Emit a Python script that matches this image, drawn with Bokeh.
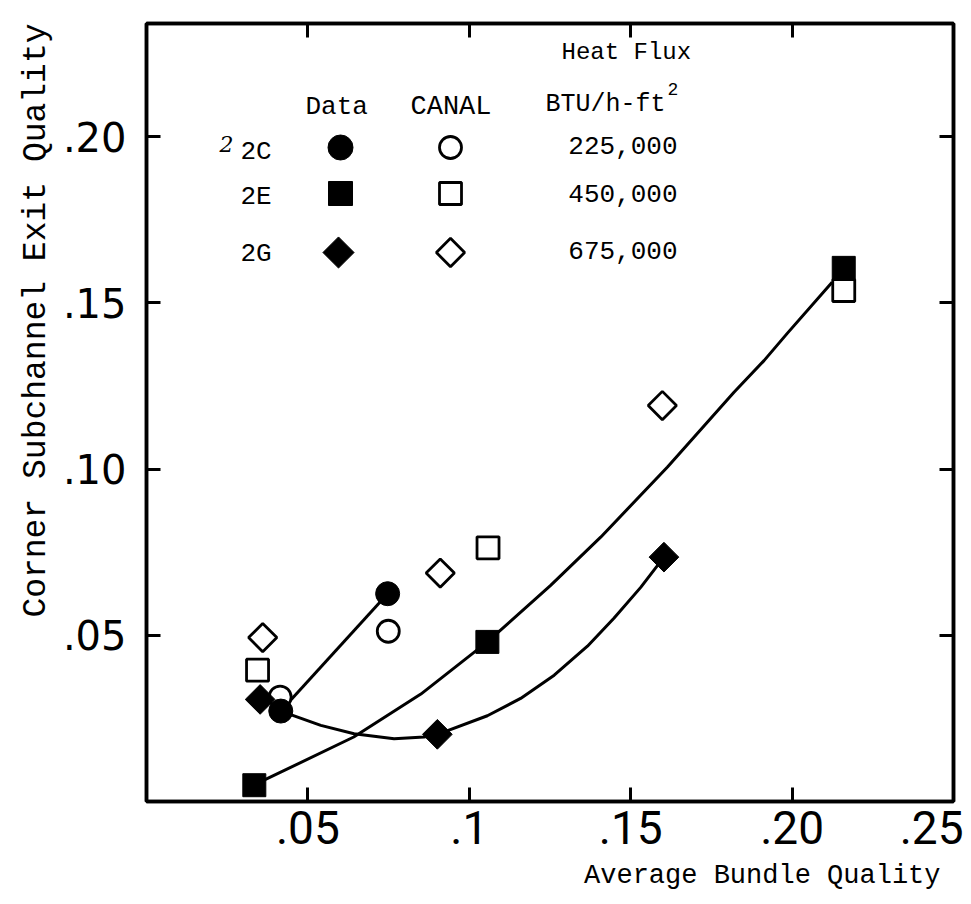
import numpy as np
from bokeh.plotting import figure
from bokeh.models import LinearAxis, FixedTicker, Range1d, Label, Title
from bokeh.embed import file_html
from bokeh.resources import INLINE

# ---------------- data ----------------
x_ticks = [0.05, 0.10, 0.15, 0.20, 0.25]
x_tick_labels = [".05", ".1", ".15", ".20", ".25"]
y_ticks = [0.05, 0.10, 0.15, 0.20]
y_tick_labels = [".05", ".10", ".15", ".20"]

# 2C  (225,000 BTU/h-ft2)
c_data_x = [0.0416, 0.0747]
c_data_y = [0.0272, 0.0625]
c_canal_x = [0.0414, 0.0749]
c_canal_y = [0.0314, 0.0512]

# 2E  (450,000 BTU/h-ft2)
e_data_x = [0.0334, 0.1056, 0.2160]
e_data_y = [0.0049, 0.0480, 0.1605]
e_canal_x = [0.0344, 0.1058, 0.2160]
e_canal_y = [0.0395, 0.0763, 0.1537]

# 2G  (675,000 BTU/h-ft2)
g_data_x = [0.0352, 0.0901, 0.1603]
g_data_y = [0.0307, 0.0202, 0.0735]
g_canal_x = [0.0360, 0.0910, 0.1598]
g_canal_y = [0.0493, 0.0687, 0.1191]

# hand-drawn fitted curves
curve_e_x = [0.0334, 0.0364, 0.0642, 0.0850, 0.1056, 0.1252, 0.1407, 0.1614, 0.1820, 0.1913, 0.1985, 0.2124]
curve_e_y = [0.0049, 0.0064, 0.0194, 0.0323, 0.0480, 0.0650, 0.0795, 0.1006, 0.1231, 0.1326, 0.1408, 0.1562]
curve_g_x = [0.0416, 0.0540, 0.0643, 0.0767, 0.0860, 0.0902, 0.1056, 0.1159, 0.1263, 0.1366, 0.1448, 0.1531, 0.1603]
curve_g_y = [0.0272, 0.0229, 0.0204, 0.0189, 0.0194, 0.0202, 0.0258, 0.0310, 0.0380, 0.0467, 0.0551, 0.0644, 0.0735]

legend_runs = ["2C", "2E", "2G"]
legend_flux = ["225,000", "450,000", "675,000"]

X_MAX = 0.25
Y_MAX = 0.234

# ---------------- figure ----------------
p = figure(width=963, height=904,
           x_range=Range1d(0, X_MAX), y_range=Range1d(0, Y_MAX),
           output_backend="svg", toolbar_location=None,
           min_border_left=146, min_border_right=10,
           min_border_top=23, min_border_bottom=103,
           background_fill_color="white", border_fill_color="white")
p.xgrid.visible = False
p.ygrid.visible = False
p.outline_line_color = "black"
p.outline_line_width = 3.5

AX_W = 3.5

xa = p.xaxis[0]
xa.ticker = FixedTicker(ticks=x_ticks)
xa.major_label_overrides = {t: l for t, l in zip(x_ticks, x_tick_labels)}
ya = p.yaxis[0]
ya.ticker = FixedTicker(ticks=y_ticks)
ya.major_label_overrides = {t: l for t, l in zip(y_ticks, y_tick_labels)}

for ax in (xa, ya):
    ax.axis_line_width = AX_W
    ax.axis_line_color = "black"
    ax.major_tick_in = 14
    ax.major_tick_out = 0
    ax.major_tick_line_width = 3
    ax.major_tick_line_color = "black"
    ax.minor_tick_line_color = None
    ax.major_label_text_color = "black"

xa.major_label_text_font = "Roboto"
xa.major_label_text_font_size = "46px"
xa.major_label_standoff = 9
ya.major_label_text_font = "DejaVu Sans"
ya.major_label_text_font_size = "40px"
ya.major_label_standoff = 20

top = LinearAxis(ticker=FixedTicker(ticks=x_ticks[:4]))
right = LinearAxis(ticker=FixedTicker(ticks=y_ticks))
for ax in (top, right):
    ax.axis_line_width = AX_W
    ax.axis_line_color = "black"
    ax.major_tick_in = 14
    ax.major_tick_out = 0
    ax.major_tick_line_width = 3
    ax.major_tick_line_color = "black"
    ax.minor_tick_line_color = None
    ax.major_label_text_font_size = "0px"
    ax.major_label_standoff = 0
    ax.major_label_text_alpha = 0
p.add_layout(top, "above")
p.add_layout(right, "right")

# ---------------- axis titles ----------------
p.add_layout(Title(text="Average Bundle Quality", align="right", offset=13,
                   text_font="Liberation Mono", text_font_size="27px",
                   text_font_style="normal", text_color="black",
                   standoff=24), "below")
p.add_layout(Title(text="Corner Subchannel Exit Quality", align="right", offset=0,
                   text_font="Liberation Mono", text_font_size="33px",
                   text_font_style="normal", text_color="black",
                   standoff=10), "left")

# ---------------- curves ----------------
LW = 3
p.line(c_data_x, c_data_y, line_color="black", line_width=LW)
p.line(curve_e_x, curve_e_y, line_color="black", line_width=LW, line_join="round")
p.line(curve_g_x, curve_g_y, line_color="black", line_width=LW, line_join="round")

# ---------------- markers ----------------
OPEN_LW = 2.8
p.scatter(c_canal_x, c_canal_y, marker="circle", size=22, fill_color="white",
          line_color="black", line_width=OPEN_LW)
p.scatter(e_canal_x, e_canal_y, marker="square", size=22, fill_color="white",
          line_color="black", line_width=OPEN_LW)
p.scatter(g_canal_x, g_canal_y, marker="square", angle=np.pi / 4, size=20,
          fill_color="white", line_color="black", line_width=OPEN_LW)

p.scatter(c_data_x, c_data_y, marker="circle", size=24, fill_color="black", line_color="black")
p.scatter(e_data_x, e_data_y, marker="square", size=23, fill_color="black", line_color="black")
p.scatter(g_data_x, g_data_y, marker="square", angle=np.pi / 4, size=21,
          fill_color="black", line_color="black")


# ---------------- legend (layout in reference pixels) ----------------
def dx(px):
    return (px - 146.0) / (953.0 - 146.0) * X_MAX


def dy(py):
    return (801.0 - py) / (801.0 - 23.0) * Y_MAX


MONO = "Liberation Mono"


def add_text(txt, px, py, size, align="left", baseline="middle", font=MONO,
             angle=0.0, style="normal"):
    p.add_layout(Label(x=dx(px), y=dy(py), text=txt, text_font=font,
                       text_font_size=size, text_align=align,
                       text_baseline=baseline, angle=angle,
                       text_font_style=style, text_color="black"))


add_text("Heat Flux", 561, 52, "24px")
add_text("BTU/h-ft", 545, 104, "25px")
add_text("2", 667, 88, "18px")
add_text("Data", 305, 106, "26px")
add_text("CANAL", 410, 106, "27px")

row_py = [148, 196, 253]
for run, flux, py in zip(legend_runs, legend_flux, row_py):
    add_text(run, 240, py + (3 if run == "2C" else 0), "26px")
    add_text(flux, 677, py - 3, "26px", align="right")
add_text("2", 219, 143, "22px", font="DejaVu Serif", style="italic")

leg_marker_y = [dy(v) for v in (147, 193, 252)]
p.scatter([dx(340)], [leg_marker_y[0]], marker="circle", size=25, fill_color="black", line_color="black")
p.scatter([dx(450)], [leg_marker_y[0]], marker="circle", size=22, fill_color="white",
          line_color="black", line_width=OPEN_LW)
p.scatter([dx(340)], [leg_marker_y[1]], marker="square", size=24, fill_color="black", line_color="black")
p.scatter([dx(450)], [leg_marker_y[1]], marker="square", size=22, fill_color="white",
          line_color="black", line_width=OPEN_LW)
p.scatter([dx(338)], [leg_marker_y[2]], marker="square", angle=np.pi / 4, size=22,
          fill_color="black", line_color="black")
p.scatter([dx(450)], [leg_marker_y[2]], marker="square", angle=np.pi / 4, size=20,
          fill_color="white", line_color="black", line_width=OPEN_LW)

open("out.html", "w").write(file_html(p, INLINE))
